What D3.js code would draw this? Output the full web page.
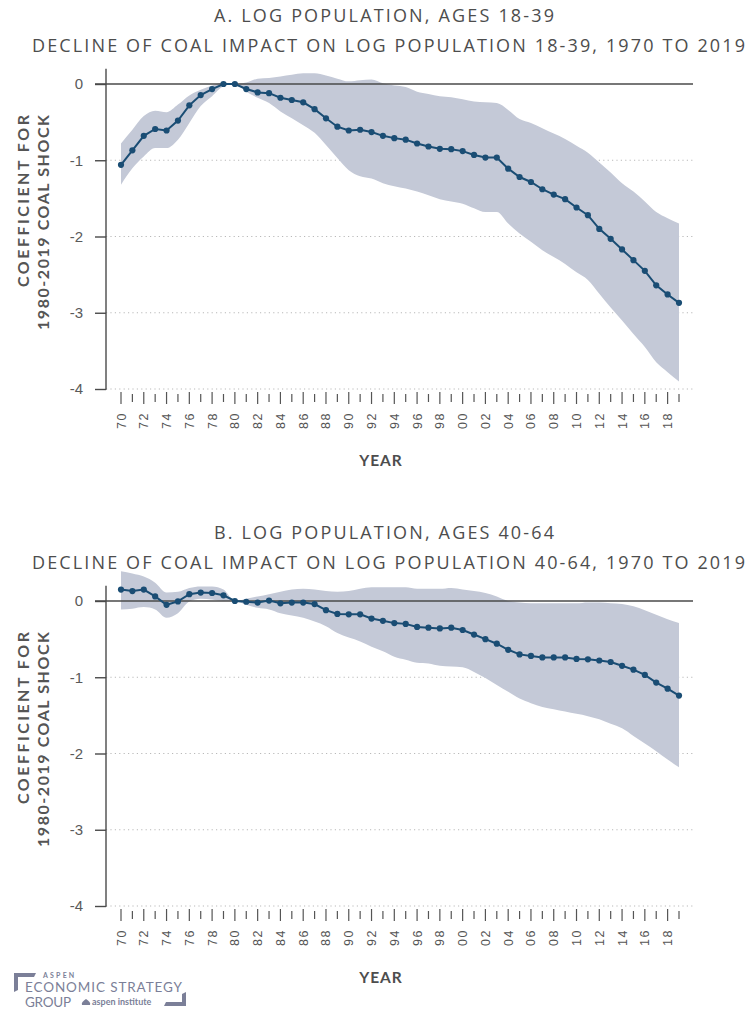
<!DOCTYPE html>
<html>
<head>
<meta charset="utf-8">
<script src="https://cdn.jsdelivr.net/npm/d3@7/dist/d3.min.js"></script>
<style>
  html, body { margin: 0; padding: 0; background: #fff; }
  svg { display: block; }
</style>
</head>
<body>
<svg id="chart" width="748" height="1014"></svg>
<script>
// Event-study years, 1970 to 2019
const years = [1970,1971,1972,1973,1974,1975,1976,1977,1978,1979,
  1980,1981,1982,1983,1984,1985,1986,1987,1988,1989,
  1990,1991,1992,1993,1994,1995,1996,1997,1998,1999,
  2000,2001,2002,2003,2004,2005,2006,2007,2008,2009,
  2010,2011,2012,2013,2014,2015,2016,2017,2018,2019];

const yearTickLabels = ["70","72","74","76","78","80","82","84","86","88","90","92","94","96","98",
  "00","02","04","06","08","10","12","14","16","18"];
const yTickValues = [0, -1, -2, -3, -4];
const yTickLabels = ["0", "-1", "-2", "-3", "-4"];

// Panel A: ages 18-39
const coefA = [-1.06,-0.87,-0.68,-0.59,-0.61,-0.48,-0.28,-0.145,-0.066,0,
  0,-0.066,-0.11,-0.12,-0.18,-0.21,-0.24,-0.33,-0.45,-0.56,
  -0.61,-0.60,-0.63,-0.68,-0.71,-0.73,-0.78,-0.82,-0.85,-0.855,
  -0.88,-0.93,-0.965,-0.965,-1.11,-1.22,-1.285,-1.38,-1.45,-1.51,
  -1.62,-1.72,-1.90,-2.03,-2.17,-2.31,-2.45,-2.64,-2.76,-2.87];
const upperA = [-0.78,-0.60,-0.42,-0.35,-0.37,-0.27,-0.15,-0.075,-0.02,0.02,
  0,0.02,0.07,0.08,0.10,0.12,0.14,0.14,0.11,0.07,
  0.035,0.05,0.06,0.01,-0.02,-0.04,-0.10,-0.13,-0.16,-0.175,
  -0.20,-0.23,-0.24,-0.25,-0.34,-0.46,-0.51,-0.58,-0.65,-0.72,
  -0.81,-0.90,-1.03,-1.16,-1.30,-1.41,-1.54,-1.68,-1.76,-1.83];
const lowerA = [-1.32,-1.105,-0.95,-0.84,-0.84,-0.73,-0.51,-0.29,-0.16,-0.03,
  0,-0.10,-0.18,-0.25,-0.36,-0.45,-0.54,-0.64,-0.80,-0.97,
  -1.13,-1.21,-1.24,-1.30,-1.34,-1.37,-1.41,-1.46,-1.51,-1.54,
  -1.57,-1.63,-1.68,-1.68,-1.83,-1.96,-2.07,-2.18,-2.27,-2.36,
  -2.47,-2.57,-2.75,-2.93,-3.10,-3.28,-3.45,-3.65,-3.78,-3.90];

// Panel B: ages 40-64
const coefB = [0.15,0.13,0.15,0.06,-0.05,-0.005,0.09,0.11,0.105,0.075,
  0,-0.01,-0.02,0.005,-0.03,-0.02,-0.02,-0.04,-0.12,-0.17,
  -0.175,-0.175,-0.23,-0.26,-0.29,-0.30,-0.34,-0.35,-0.36,-0.35,
  -0.38,-0.44,-0.50,-0.56,-0.64,-0.70,-0.72,-0.74,-0.74,-0.74,
  -0.76,-0.765,-0.78,-0.80,-0.85,-0.90,-0.97,-1.07,-1.15,-1.24];
const upperB = [0.39,0.36,0.32,0.24,0.11,0.12,0.17,0.19,0.19,0.15,
  0,0.03,0.06,0.09,0.12,0.15,0.16,0.15,0.13,0.12,
  0.13,0.16,0.18,0.18,0.18,0.18,0.16,0.16,0.16,0.17,
  0.15,0.13,0.105,0.06,0,-0.02,-0.03,-0.03,-0.03,-0.03,
  -0.03,-0.02,-0.02,-0.03,-0.04,-0.07,-0.12,-0.18,-0.24,-0.29];
const lowerB = [-0.11,-0.10,-0.08,-0.11,-0.22,-0.16,-0.005,0.03,0.02,0,
  0,-0.05,-0.09,-0.11,-0.16,-0.19,-0.22,-0.27,-0.33,-0.42,
  -0.48,-0.53,-0.60,-0.66,-0.73,-0.77,-0.81,-0.82,-0.85,-0.86,
  -0.87,-0.93,-1.01,-1.10,-1.19,-1.28,-1.34,-1.39,-1.42,-1.45,
  -1.48,-1.51,-1.55,-1.61,-1.67,-1.77,-1.87,-1.97,-2.08,-2.18];

const titlesA = ["A. LOG POPULATION, AGES 18-39", "DECLINE OF COAL IMPACT ON LOG POPULATION 18-39, 1970 TO 2019"];
const titlesB = ["B. LOG POPULATION, AGES 40-64", "DECLINE OF COAL IMPACT ON LOG POPULATION 40-64, 1970 TO 2019"];
const yLabelLines = ["COEFFICIENT FOR", "1980-2019 COAL SHOCK"];
const xLabel = "YEAR";

const LINE = "#1a4d74";
const BAND = "#c4c9d7";
const TEXT = "#4d4d4d";
const TITLE_FONT = "'Open Sans', Lato, sans-serif";
const LABEL_FONT = "Lato, 'Open Sans', sans-serif";
const TICK_FONT = "'Liberation Sans', Arial, sans-serif";

const svg = d3.select("#chart");

function drawPanel(offset, titles, coef, upper, lower) {
  const g = svg.append("g").attr("transform", `translate(0,${offset})`);

  const x = d3.scaleLinear().domain([1970, 2019]).range([121, 679]);
  const y = d3.scaleLinear().domain([-4, 0]).range([389, 84]);

  // titles
  g.append("text")
    .attr("x", 384).attr("y", 22)
    .attr("text-anchor", "middle")
    .attr("textLength", 340).attr("lengthAdjust", "spacing")
    .style("font-family", TITLE_FONT).style("font-size", "18px").style("font-weight", 500)
    .style("fill", TEXT)
    .text(titles[0]);
  g.append("text")
    .attr("x", 388.5).attr("y", 52)
    .attr("text-anchor", "middle")
    .attr("textLength", 713).attr("lengthAdjust", "spacing")
    .style("font-family", TITLE_FONT).style("font-size", "18px").style("font-weight", 500)
    .style("fill", TEXT)
    .text(titles[1]);

  // dotted gridlines
  g.selectAll("line.grid")
    .data(yTickValues.filter(v => v !== 0))
    .join("line")
    .attr("class", "grid")
    .attr("x1", 106).attr("x2", 693)
    .attr("y1", d => y(d)).attr("y2", d => y(d))
    .attr("stroke", "#b9b9b9").attr("stroke-width", 1)
    .attr("stroke-dasharray", "1.2,3.2");

  // confidence band
  const area = d3.area()
    .x((d, i) => x(years[i]))
    .y0((d, i) => y(lower[i]))
    .y1((d, i) => y(upper[i]))
    .curve(d3.curveMonotoneX);
  g.append("path")
    .datum(coef)
    .attr("d", area)
    .attr("fill", BAND);

  // zero line
  g.append("line")
    .attr("x1", 95).attr("x2", 693)
    .attr("y1", y(0)).attr("y2", y(0))
    .attr("stroke", "#4a4a4a").attr("stroke-width", 1.4);

  // y axis
  const yAxis = d3.axisLeft(y)
    .tickValues(yTickValues)
    .tickFormat((d, i) => yTickLabels[i])
    .tickSize(11)
    .tickPadding(12);
  const ya = g.append("g").attr("transform", "translate(106,0)").call(yAxis);
  ya.select(".domain").remove();
  ya.selectAll(".tick line").attr("stroke", "#4a4a4a").attr("stroke-width", 1.4);
  ya.selectAll(".tick text")
    .style("font-family", TICK_FONT).style("font-size", "15px")
    .style("fill", "#5a5a5a");
  g.append("line")
    .attr("x1", 106).attr("x2", 106)
    .attr("y1", y(0.2)).attr("y2", y(-4) + 0.7)
    .attr("stroke", "#4a4a4a").attr("stroke-width", 1.4);

  // x ticks: every year, labels on even years
  const xt = g.append("g");
  xt.selectAll("line")
    .data(years)
    .join("line")
    .attr("x1", d => x(d)).attr("x2", d => x(d))
    .attr("y1", d => d % 2 === 0 ? 392 : 394)
    .attr("y2", d => d % 2 === 0 ? 404 : 402)
    .attr("stroke", "#555").attr("stroke-width", 1.2);
  const evenYears = years.filter(d => d % 2 === 0);
  xt.selectAll("text")
    .data(evenYears)
    .join("text")
    .attr("transform", d => `translate(${x(d)},412) rotate(-90)`)
    .attr("dy", "0.36em")
    .attr("text-anchor", "end")
    .style("font-family", TICK_FONT).style("font-size", "12.5px")
    .style("letter-spacing", "1.5px")
    .style("fill", "#555")
    .text((d, i) => yearTickLabels[i]);

  g.append("text")
    .attr("x", 381).attr("y", 466)
    .attr("text-anchor", "middle")
    .style("font-family", LABEL_FONT).style("font-size", "15.5px").style("font-weight", 700)
    .style("letter-spacing", "1px")
    .style("fill", TEXT)
    .text(xLabel);

  // y axis title
  [[28.5, 172], [48.5, 215]].forEach(([bx, len], i) => {
    g.append("text")
      .attr("transform", `translate(${bx},115) rotate(-90)`)
      .attr("text-anchor", "end")
      .attr("textLength", len).attr("lengthAdjust", "spacing")
      .style("font-family", LABEL_FONT).style("font-size", "16px").style("font-weight", 700)
      .style("fill", "#555")
      .text(yLabelLines[i]);
  });

  // coefficient line and markers
  const line = d3.line()
    .x((d, i) => x(years[i]))
    .y(d => y(d));
  g.append("path")
    .datum(coef)
    .attr("d", line)
    .attr("fill", "none")
    .attr("stroke", LINE).attr("stroke-width", 2);
  g.selectAll("circle")
    .data(coef)
    .join("circle")
    .attr("cx", (d, i) => x(years[i]))
    .attr("cy", d => y(d))
    .attr("r", 3.1)
    .attr("fill", LINE);
}

drawPanel(0, titlesA, coefA, upperA, lowerA);
drawPanel(517, titlesB, coefB, upperB, lowerB);

// publisher mark
const LOGO = "#7b7f98";
const logo = svg.append("g");
logo.append("path")
  .attr("d", "M14,973 L36,973 L34,977 L18,977 L18,990 L14,992 Z")
  .attr("fill", LOGO);
logo.append("path")
  .attr("d", "M186,992 L186,1006 L164,1006 L166,1002 L182,1002 L182,994 Z")
  .attr("fill", LOGO);
logo.append("text")
  .attr("x", 43).attr("y", 978)
  .style("font-family", LABEL_FONT).style("font-size", "7px").style("font-weight", 700)
  .style("letter-spacing", "2.2px")
  .style("fill", LOGO)
  .text("ASPEN");
logo.append("text")
  .attr("x", 25).attr("y", 991.5)
  .attr("textLength", 157).attr("lengthAdjust", "spacing")
  .style("font-family", LABEL_FONT).style("font-size", "13.5px").style("font-weight", 400)
  .style("fill", LOGO)
  .text("ECONOMIC STRATEGY");
logo.append("text")
  .attr("x", 25).attr("y", 1006.5)
  .attr("textLength", 46).attr("lengthAdjust", "spacing")
  .style("font-family", LABEL_FONT).style("font-size", "13.5px").style("font-weight", 400)
  .style("fill", LOGO)
  .text("GROUP");
logo.append("path")
  .attr("d", "M86,999 C83,1001 81,1003 82,1005 L90,1005 C91,1003 89,1001 86,999 Z")
  .attr("fill", LOGO);
logo.append("text")
  .attr("x", 92).attr("y", 1005)
  .style("font-family", LABEL_FONT).style("font-size", "9px").style("font-weight", 700)
  .style("fill", LOGO)
  .text("aspen institute");
</script>
</body>
</html>
